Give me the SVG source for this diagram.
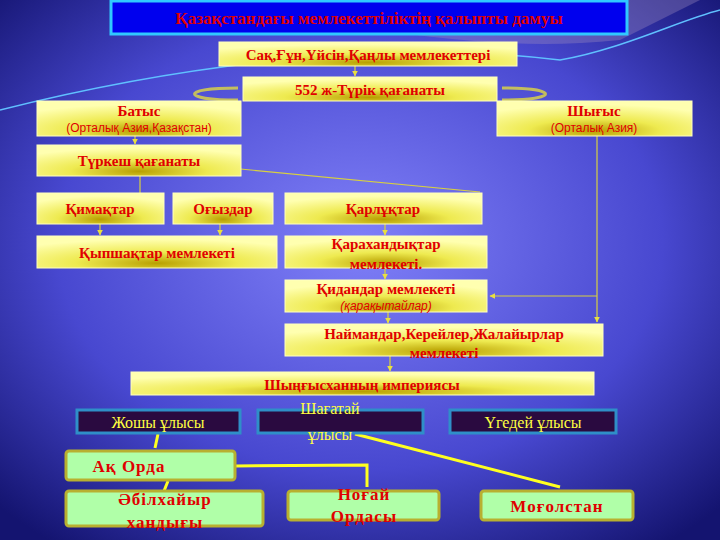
<svg xmlns="http://www.w3.org/2000/svg" width="720" height="540" viewBox="0 0 720 540">
<defs>
<radialGradient id="bg" cx="0.5" cy="0.45" r="0.7">
<stop offset="0" stop-color="#8080f8"/><stop offset="0.6" stop-color="#4848d0"/><stop offset="1" stop-color="#141470"/>
</radialGradient>
<radialGradient id="yb" cx="0.5" cy="0.85" r="0.75">
<stop offset="0" stop-color="#b8a000"/><stop offset="0.45" stop-color="#eeea50"/><stop offset="1" stop-color="#ffffb0"/>
</radialGradient>
<filter id="glow" x="-10%" y="-30%" width="120%" height="160%"><feGaussianBlur stdDeviation="2"/></filter>
<marker id="ar" viewBox="0 0 10 10" refX="9" refY="5" markerWidth="5" markerHeight="5" orient="auto"><path d="M0,0L10,5L0,10z" fill="#e8e040"/></marker>
<style>
.y{fill:url(#yb);stroke:#ffffc0;stroke-width:1}
.t{font-family:"Liberation Serif",serif;font-weight:bold;fill:#e00000;text-anchor:middle}
.s{font-family:"Liberation Sans",sans-serif;fill:#e00000;text-anchor:middle;font-size:12px}
.u{fill:#2a0a40;stroke:#2f8fc8;stroke-width:3}
.ut{font-family:"Liberation Serif",serif;fill:#ffff40;font-size:16px;text-anchor:middle}
.g{fill:#b0ffa8;stroke:#b8b030;stroke-width:3}
.c{stroke:#d8d040;stroke-width:1.2;fill:none}
.k{stroke:#ffff20;stroke-width:3;fill:none}
</style>
</defs>
<rect width="720" height="540" fill="url(#bg)"/>
<path d="M0,110 C200,60 400,40 560,60 C620,50 680,20 720,10" stroke="#60c0ff" stroke-width="1.5" fill="none"/>
<path d="M300,20 C450,40 520,50 620,40 L700,0 L300,0z" fill="#a090c0" opacity="0.35"/>
<g id="title"><rect x="111" y="1" width="516" height="33" fill="#0000ee" stroke="#30c8ff" stroke-width="3"/><text class="t" x="369" y="24" font-size="17">Қазақстандағы мемлекеттіліктің қалыпты дамуы</text></g>
<g id="connectors">
<path class="c" d="M355,66V76" marker-end="url(#ar)"/>
<path d="M238,88 C180,88 180,100 238,100" stroke="#e0d840" stroke-width="3" fill="none" opacity="0.8"/>
<path d="M502,88 C560,88 560,100 502,100" stroke="#e0d840" stroke-width="3" fill="none" opacity="0.8"/>
<path class="c" d="M135,136V144" marker-end="url(#ar)"/>
<path class="c" d="M140,176V193"/>
<path class="c" d="M230,168L480,192"/>
<path class="c" d="M597,136V322" marker-end="url(#ar)"/>
<path class="c" d="M597,296H490" marker-end="url(#ar)"/>
<path class="c" d="M100,224V235" marker-end="url(#ar)"/>
<path class="c" d="M220,224V235" marker-end="url(#ar)"/>
<path class="c" d="M385,224V235" marker-end="url(#ar)"/>
<path class="c" d="M385,268V279" marker-end="url(#ar)"/>
<path class="c" d="M388,312V323" marker-end="url(#ar)"/>
<path class="c" d="M390,356V371" marker-end="url(#ar)"/>
<path class="k" d="M158,434L155,448"/>
<path class="k" d="M235,466L367,465V487"/>
<path class="k" d="M168,481L164,491"/>
<path class="k" d="M355,434L560,487"/>
</g>
<g id="n1"><rect class="y" x="219" y="42" width="298" height="24"/><text class="t" x="368" y="60" font-size="15">Сақ,Ғұн,Үйсін,Қаңлы мемлекеттері</text></g>
<g id="n2"><rect class="y" x="243" y="77" width="254" height="24"/><text class="t" x="370" y="95" font-size="15">552 ж-Түрік қағанаты</text></g>
<g id="batys"><rect class="y" x="37" y="101" width="204" height="35"/><text class="t" x="139" y="116" font-size="15">Батыс</text><text class="s" x="139" y="132">(Орталық Азия,Қазақстан)</text></g>
<g id="shygys"><rect class="y" x="497" y="101" width="195" height="35"/><text class="t" x="594" y="116" font-size="15">Шығыс</text><text class="s" x="594" y="132">(Орталық Азия)</text></g>
<g id="turkesh"><rect class="y" x="37" y="145" width="204" height="31"/><text class="t" x="139" y="166" font-size="15">Түркеш қағанаты</text></g>
<g id="kimak"><rect class="y" x="37" y="193" width="127" height="31"/><text class="t" x="100" y="214" font-size="15">Қимақтар</text></g>
<g id="oguz"><rect class="y" x="173" y="193" width="100" height="31"/><text class="t" x="223" y="214" font-size="15">Оғыздар</text></g>
<g id="karluk"><rect class="y" x="285" y="193" width="197" height="31"/><text class="t" x="383" y="214" font-size="15">Қарлұқтар</text></g>
<g id="kypchak"><rect class="y" x="37" y="236" width="240" height="32"/><text class="t" x="157" y="258" font-size="15">Қыпшақтар мемлекеті</text></g>
<g id="karakhan"><rect class="y" x="285" y="236" width="202" height="32"/><text class="t" x="386" y="249" font-size="15">Қарахандықтар</text><text class="t" x="386" y="269" font-size="15">мемлекеті.</text></g>
<g id="kidan"><rect class="y" x="285" y="280" width="202" height="32"/><text class="t" x="386" y="294" font-size="15">Қидандар мемлекеті</text><text x="386" y="310" font-family="Liberation Sans,sans-serif" font-style="italic" font-size="12" fill="#e00000" text-anchor="middle">(қарақытайлар)</text></g>
<g id="naiman"><rect class="y" x="285" y="324" width="318" height="32"/><text class="t" x="444" y="339" font-size="15">Наймандар,Керейлер,Жалайырлар</text><text class="t" x="444" y="358" font-size="15">мемлекеті</text></g>
<g id="chingis"><rect class="y" x="131" y="372" width="463" height="23"/><text class="t" x="362" y="390" font-size="15">Шыңғысханның империясы</text></g>
<g id="joshy"><rect class="u" x="77" y="410" width="163" height="23"/><text class="ut" x="158" y="428">Жошы ұлысы</text></g>
<g id="shagatai"><rect class="u" x="258" y="410" width="165" height="23"/><text class="ut" x="330" y="414">Шағатай</text><text class="ut" x="330" y="440">ұлысы</text></g>
<g id="ugedei"><rect class="u" x="450" y="410" width="166" height="23"/><text class="ut" x="533" y="428">Үгедей ұлысы</text></g>
<g id="akorda"><rect class="g" x="66" y="451" width="169" height="29" rx="3"/><text class="t" x="129" y="472" font-size="17" letter-spacing="1">Ақ Орда</text></g>
<g id="abilkhair"><rect class="g" x="66" y="491" width="197" height="35" rx="3"/><text class="t" x="165" y="505" font-size="17" letter-spacing="1">Әбілхайыр</text><text class="t" x="165" y="528" font-size="17" letter-spacing="1">хандығы</text></g>
<g id="nogai"><rect class="g" x="288" y="491" width="151" height="29" rx="3"/><text class="t" x="364" y="500" font-size="17" letter-spacing="1">Ноғай</text><text class="t" x="364" y="522" font-size="17" letter-spacing="1">Ордасы</text></g>
<g id="mogol"><rect class="g" x="481" y="491" width="152" height="29" rx="3"/><text class="t" x="557" y="512" font-size="17" letter-spacing="1">Моғолстан</text></g>
</svg>
